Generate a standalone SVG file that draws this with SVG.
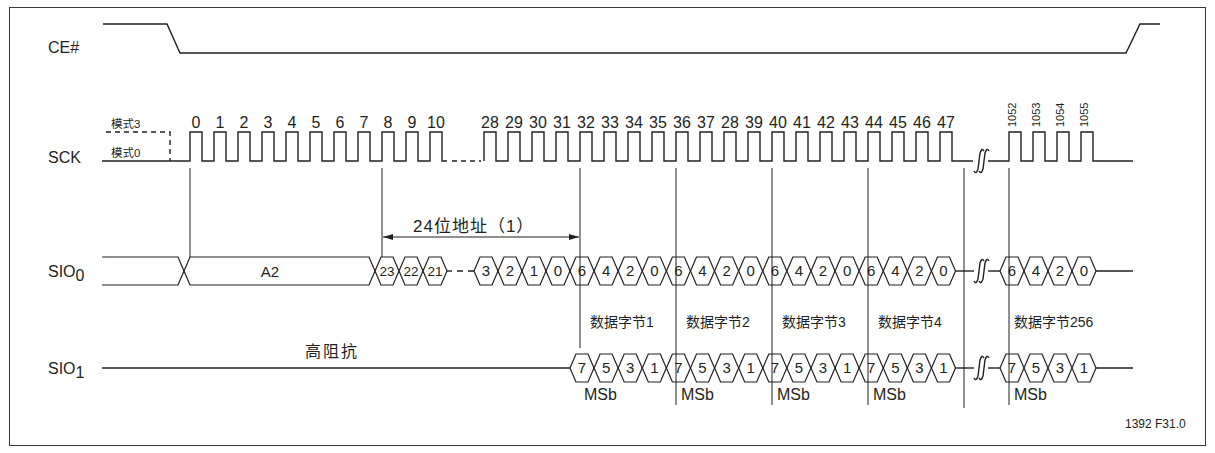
<svg xmlns="http://www.w3.org/2000/svg" xmlns:xlink="http://www.w3.org/1999/xlink" width="1215" height="453" viewBox="0 0 1215 453">
<style>
.w{fill:none;stroke:#231f20;stroke-width:1.4}
.wd{fill:none;stroke:#231f20;stroke-width:1.4;stroke-dasharray:5,4}
.v{fill:none;stroke:#231f20;stroke-width:1}
.hxs{fill:none;stroke:#231f20;stroke-width:1.2}
text{font-family:"Liberation Sans","Noto Sans CJK SC",sans-serif;fill:#231f20}
.lb{font-size:16px}
.ck{font-size:16px;text-anchor:middle}
.ckr{font-size:11px}
.d{font-size:15px;text-anchor:middle}
.d2{font-size:13.5px;text-anchor:middle}
.m{font-size:11.5px}
.cj{font-size:14px}
</style>
<defs>
<polygon id="hx" class="hxs" points="0,0 6,-14 18,-14 24,0 18,14 6,14"/>
<path id="brk" class="w" d="M0,10 Q2,14 4,8 L6,-8 Q8,-14 10,-10 M5,10 Q7,14 9,8 L11,-8 Q13,-14 15,-10"/>
<marker id="ah" viewBox="0 0 10 6" refX="10" refY="3" markerWidth="10" markerHeight="6" markerUnits="userSpaceOnUse" orient="auto-start-reverse"><path d="M0,0 L10,3 L0,6 z" fill="#231f20"/></marker>
</defs>
<rect x="9.5" y="7.5" width="1196" height="438" fill="#fff" stroke="#3a3a3a" stroke-width="1"/>

<g id="ce">
<text class="lb" x="48" y="53">CE#</text>
<path class="w" d="M103,24 H167 L180,53 H1126 L1140,24 H1160"/>
</g>

<g id="sck">
<text class="lb" x="48" y="163">SCK</text>
<text class="m" x="111" y="128">模式3</text>
<text class="m" x="111" y="157">模式0</text>
<path class="wd" d="M106,132 H170 V161"/>
<path class="w" d="M102,161 H190 V132 H202 V161 H214 V132 H226 V161 H238 V132 H250 V161 H262 V132 H274 V161 H286 V132 H298 V161 H310 V132 H322 V161 H334 V132 H346 V161 H358 V132 H370 V161 H382 V132 H394 V161 H406 V132 H418 V161 H430 V132 H442 V161 H447"/>
<path class="wd" d="M452,161 H481"/>
<path class="w" d="M484,161 V132 H496 V161 H508 V132 H520 V161 H532 V132 H544 V161 H556 V132 H568 V161 H580 V132 H592 V161 H604 V132 H616 V161 H628 V132 H640 V161 H652 V132 H664 V161 H676 V132 H688 V161 H700 V132 H712 V161 H724 V132 H736 V161 H748 V132 H760 V161 H772 V132 H784 V161 H796 V132 H808 V161 H820 V132 H832 V161 H844 V132 H856 V161 H868 V132 H880 V161 H892 V132 H904 V161 H916 V132 H928 V161 H940 V132 H952 V161 H973"/>
<use href="#brk" x="974" y="161"/>
<path class="w" d="M988,161 H1009 V132 H1021 V161 H1033 V132 H1045 V161 H1057 V132 H1069 V161 H1081 V132 H1093 V161 H1133"/>
<g>
<text class="ck" x="196" y="128">0</text><text class="ck" x="220" y="128">1</text><text class="ck" x="244" y="128">2</text><text class="ck" x="268" y="128">3</text><text class="ck" x="292" y="128">4</text><text class="ck" x="316" y="128">5</text><text class="ck" x="340" y="128">6</text><text class="ck" x="364" y="128">7</text><text class="ck" x="388" y="128">8</text><text class="ck" x="412" y="128">9</text><text class="ck" x="436" y="128">10</text>
<text class="ck" x="490" y="128">28</text><text class="ck" x="514" y="128">29</text><text class="ck" x="538" y="128">30</text><text class="ck" x="562" y="128">31</text><text class="ck" x="586" y="128">32</text><text class="ck" x="610" y="128">33</text><text class="ck" x="634" y="128">34</text><text class="ck" x="658" y="128">35</text><text class="ck" x="682" y="128">36</text><text class="ck" x="706" y="128">37</text><text class="ck" x="730" y="128">28</text><text class="ck" x="754" y="128">39</text><text class="ck" x="778" y="128">40</text><text class="ck" x="802" y="128">41</text><text class="ck" x="826" y="128">42</text><text class="ck" x="850" y="128">43</text><text class="ck" x="874" y="128">44</text><text class="ck" x="898" y="128">45</text><text class="ck" x="922" y="128">46</text><text class="ck" x="946" y="128">47</text>
</g>
<text class="ckr" transform="translate(1016,127) rotate(-90)">1052</text>
<text class="ckr" transform="translate(1040,127) rotate(-90)">1053</text>
<text class="ckr" transform="translate(1064,127) rotate(-90)">1054</text>
<text class="ckr" transform="translate(1088,127) rotate(-90)">1055</text>
</g>

<g id="connectors">
<path class="v" d="M190,168 V257 M382,168 V257 M580,168 V348 M676,168 V405 M772,168 V405 M868,168 V405 M964,168 V408 M1009,168 V405"/>
<path class="v" d="M383,237 H579" marker-start="url(#ah)" marker-end="url(#ah)"/>
<text x="413" y="232" style="font-size:17px;letter-spacing:1px">24位地址（1）</text>
</g>

<g id="sio0">
<text class="lb" x="48" y="277">SIO<tspan dy="4">0</tspan></text>
<path class="hxs" d="M102,257 H178 L184,271 M102,285 H178 L184,271"/>
<polygon class="hxs" points="184,271 190,257 369,257 375,271 369,285 190,285"/>
<text class="d" x="270" y="277">A2</text>
<use href="#hx" x="375" y="271"/><use href="#hx" x="399" y="271"/><use href="#hx" x="423" y="271"/>
<path class="w" d="M447,271 H452"/>
<path class="wd" d="M457,271 H474" style="stroke-dasharray:6,5"/>
<use href="#hx" x="474" y="271"/><use href="#hx" x="498" y="271"/><use href="#hx" x="522" y="271"/><use href="#hx" x="546" y="271"/>
<use href="#hx" x="570" y="271"/><use href="#hx" x="594.1" y="271"/><use href="#hx" x="618.2" y="271"/><use href="#hx" x="642.3" y="271"/>
<use href="#hx" x="666.4" y="271"/><use href="#hx" x="690.5" y="271"/><use href="#hx" x="714.6" y="271"/><use href="#hx" x="738.7" y="271"/>
<use href="#hx" x="762.8" y="271"/><use href="#hx" x="786.9" y="271"/><use href="#hx" x="811" y="271"/><use href="#hx" x="835.1" y="271"/>
<use href="#hx" x="859.2" y="271"/><use href="#hx" x="883.3" y="271"/><use href="#hx" x="907.4" y="271"/><use href="#hx" x="931.5" y="271"/>
<path class="w" d="M955.5,271 H974"/>
<use href="#brk" x="974" y="271"/>
<path class="w" d="M988,271 H1000"/>
<use href="#hx" x="1000" y="271"/><use href="#hx" x="1024" y="271"/><use href="#hx" x="1048" y="271"/><use href="#hx" x="1072" y="271"/>
<path class="w" d="M1096,271 H1133"/>
<text class="d2" x="387" y="276">23</text><text class="d2" x="411" y="276">22</text><text class="d2" x="435" y="276">21</text>
<text class="d" x="486" y="276">3</text><text class="d" x="510" y="276">2</text><text class="d" x="534" y="276">1</text><text class="d" x="558" y="276">0</text>
<text class="d" x="582" y="276">6</text><text class="d" x="606.1" y="276">4</text><text class="d" x="630.2" y="276">2</text><text class="d" x="654.3" y="276">0</text>
<text class="d" x="678.4" y="276">6</text><text class="d" x="702.5" y="276">4</text><text class="d" x="726.6" y="276">2</text><text class="d" x="750.7" y="276">0</text>
<text class="d" x="774.8" y="276">6</text><text class="d" x="798.9" y="276">4</text><text class="d" x="823" y="276">2</text><text class="d" x="847.1" y="276">0</text>
<text class="d" x="871.2" y="276">6</text><text class="d" x="895.3" y="276">4</text><text class="d" x="919.4" y="276">2</text><text class="d" x="943.5" y="276">0</text>
<text class="d" x="1012" y="276">6</text><text class="d" x="1036" y="276">4</text><text class="d" x="1060" y="276">2</text><text class="d" x="1084" y="276">0</text>
</g>

<g id="labels">
<text class="cj" x="590" y="327">数据字节1</text>
<text class="cj" x="686" y="327">数据字节2</text>
<text class="cj" x="782" y="327">数据字节3</text>
<text class="cj" x="878" y="327">数据字节4</text>
<text class="cj" x="1014" y="327">数据字节256</text>
<text x="305" y="357" style="font-size:16px;letter-spacing:2px">高阻抗</text>
<text x="1125" y="428" style="font-size:12px">1392 F31.0</text>
</g>

<g id="sio1">
<text class="lb" x="48" y="374">SIO<tspan dy="4">1</tspan></text>
<path class="w" d="M102,368 H570"/>
<use href="#hx" x="570" y="368"/><use href="#hx" x="594.1" y="368"/><use href="#hx" x="618.2" y="368"/><use href="#hx" x="642.3" y="368"/>
<use href="#hx" x="666.4" y="368"/><use href="#hx" x="690.5" y="368"/><use href="#hx" x="714.6" y="368"/><use href="#hx" x="738.7" y="368"/>
<use href="#hx" x="762.8" y="368"/><use href="#hx" x="786.9" y="368"/><use href="#hx" x="811" y="368"/><use href="#hx" x="835.1" y="368"/>
<use href="#hx" x="859.2" y="368"/><use href="#hx" x="883.3" y="368"/><use href="#hx" x="907.4" y="368"/><use href="#hx" x="931.5" y="368"/>
<path class="w" d="M955.5,368 H974"/>
<use href="#brk" x="974" y="368"/>
<path class="w" d="M988,368 H1000"/>
<use href="#hx" x="1000" y="368"/><use href="#hx" x="1024" y="368"/><use href="#hx" x="1048" y="368"/><use href="#hx" x="1072" y="368"/>
<path class="w" d="M1096,368 H1133"/>
<text class="d" x="582" y="373">7</text><text class="d" x="606.1" y="373">5</text><text class="d" x="630.2" y="373">3</text><text class="d" x="654.3" y="373">1</text>
<text class="d" x="678.4" y="373">7</text><text class="d" x="702.5" y="373">5</text><text class="d" x="726.6" y="373">3</text><text class="d" x="750.7" y="373">1</text>
<text class="d" x="774.8" y="373">7</text><text class="d" x="798.9" y="373">5</text><text class="d" x="823" y="373">3</text><text class="d" x="847.1" y="373">1</text>
<text class="d" x="871.2" y="373">7</text><text class="d" x="895.3" y="373">5</text><text class="d" x="919.4" y="373">3</text><text class="d" x="943.5" y="373">1</text>
<text class="d" x="1012" y="373">7</text><text class="d" x="1036" y="373">5</text><text class="d" x="1060" y="373">3</text><text class="d" x="1084" y="373">1</text>
<text class="lb" x="584" y="400">MSb</text>
<text class="lb" x="681" y="400">MSb</text>
<text class="lb" x="777" y="400">MSb</text>
<text class="lb" x="873" y="400">MSb</text>
<text class="lb" x="1014" y="400">MSb</text>
</g>
</svg>
